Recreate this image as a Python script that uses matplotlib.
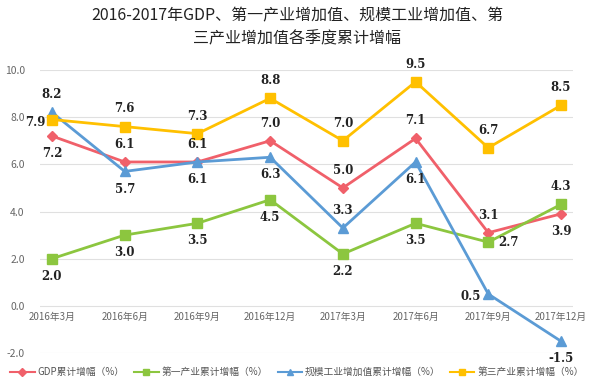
import matplotlib
matplotlib.use("Agg")
import matplotlib.pyplot as plt
from matplotlib.lines import Line2D

plt.rcParams['font.family'] = ['Noto Sans CJK SC', 'DejaVu Sans']

categories = ["2016年3月", "2016年6月", "2016年9月", "2016年12月",
              "2017年3月", "2017年6月", "2017年9月", "2017年12月"]
gdp = [7.2, 6.1, 6.1, 7.0, 5.0, 7.1, 3.1, 3.9]
primary = [2.0, 3.0, 3.5, 4.5, 2.2, 3.5, 2.7, 4.3]
industry = [8.2, 5.7, 6.1, 6.3, 3.3, 6.1, 0.5, -1.5]
tertiary = [7.9, 7.6, 7.3, 8.8, 7.0, 9.5, 6.7, 8.5]
series_names = ["GDP累计增幅（%）", "第一产业累计增幅（%）",
                "规模工业增加值累计增幅（%）", "第三产业累计增幅（%）"]
yticks = [-2.0, 0.0, 2.0, 4.0, 6.0, 8.0, 10.0]
title_lines = ["2016-2017年GDP、第一产业增加值、规模工业增加值、第",
               "三产业增加值各季度累计增幅"]

colors = ["#F0606A", "#8CC63F", "#5B9BD5", "#FFC000"]
markers = ["D", "s", "^", "s"]
msizes = [5, 6.5, 6.5, 6.5]
# label placement: 'a' above, 'b' below, 'l' left, 'r' right
placements = [
    ['b', 'a', 'a', 'a', 'a', 'a', 'a', 'b'],
    ['b', 'b', 'b', 'b', 'b', 'b', 'r', 'a'],
    ['a', 'b', 'b', 'b', 'a', 'b', 'l', 'b'],
    ['l', 'a', 'a', 'a', 'a', 'a', 'a', 'a'],
]
all_series = [gdp, primary, industry, tertiary]

fig = plt.figure(figsize=(5.94, 3.85), dpi=100)
ax = fig.add_axes([40/594, 1-353/385, (573-40)/594, (353-70)/385])

x = list(range(len(categories)))
for s, c, m, ms in zip(all_series, colors, markers, msizes):
    ax.plot(x, s, color=c, lw=2, marker=m, ms=ms, mfc=c, mec=c, zorder=3)

offs = {'a': (0, 8, 'center', 'bottom'), 'b': (0, -8, 'center', 'top'),
        'l': (-5, -2, 'right', 'center'), 'r': (7, 0, 'left', 'center')}
for s, pl in zip(all_series, placements):
    for xi, v, p in zip(x, s, pl):
        dx, dy, ha, va = offs[p]
        ax.annotate(f"{v:.1f}", (xi, v), xytext=(dx, dy), textcoords='offset points',
                    ha=ha, va=va, fontsize=8.5, fontweight='bold', color='#222222',
                    family='DejaVu Serif', zorder=4)

ax.set_xlim(-0.165, 7.165)
ax.set_ylim(-2, 10)
ax.set_yticks(yticks)
ax.set_yticklabels([f"{t:.1f}" for t in yticks], fontsize=7.5, color='#666666')
ax.grid(axis='y', color='#E0E0E0', lw=0.8)
ax.set_axisbelow(True)
for sp in ax.spines.values():
    sp.set_visible(False)
ax.tick_params(axis='both', length=0)
ax.tick_params(axis='y', pad=11)
ax.set_xticks([])
for xi, cat in zip(x, categories):
    ax.text(xi, -0.27, cat, ha='center', va='top', fontsize=7, color='#666666')

fig.text(0.5, 1-16/385, title_lines[0], ha='center', va='center', fontsize=11.5,
         color='#222222')
fig.text(0.5, 1-39/385, title_lines[1], ha='center', va='center', fontsize=11.5,
         color='#222222')

handles = [Line2D([0], [0], color=c, lw=1.5, marker=m, ms=4, mfc=c, mec=c)
           for c, m in zip(colors, markers)]
fig.legend(handles, series_names, loc='center', bbox_to_anchor=(0.5, 1-372/385),
           ncol=4, frameon=False, fontsize=7, labelcolor='#555555',
           handlelength=2.5, handletextpad=0.3, columnspacing=1.0)

fig.savefig("out.png", dpi=100)
